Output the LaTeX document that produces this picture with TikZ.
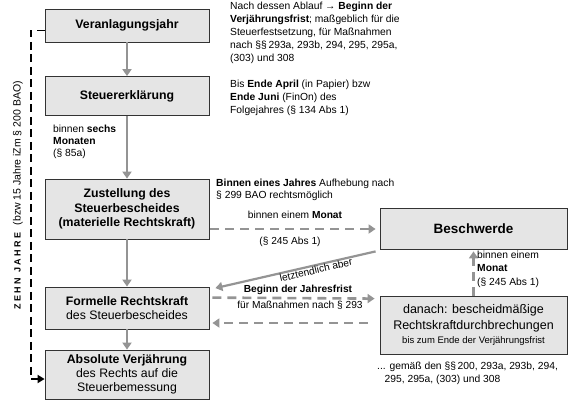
\documentclass[tikz,border=0pt]{standalone}
\usepackage{fontspec}
\setmainfont{Liberation Sans}
\usetikzlibrary{arrows.meta,calc}
\begin{document}
\begin{tikzpicture}[x=1pt,y=-1pt,
  box/.style={draw=black!80, fill=black!10, line width=0.8pt, inner sep=0pt, align=center,
    minimum width=164pt, font=\fontsize{12.3}{14.5}\selectfont},
  rbox/.style={box, minimum width=187pt},
  note/.style={inner sep=0pt, align=left, anchor=north west, font=\fontsize{10.3}{13}\selectfont},
  lbl/.style={inner sep=0pt, font=\fontsize{10.2}{12}\selectfont},
  garrow/.style={draw=black!42, line width=2.6pt, -{Triangle[length=7pt,width=9pt]}},
  gdash/.style={garrow, dash pattern=on 9pt off 6pt},
  kdash/.style={draw=black, line width=1.8pt, dash pattern=on 8pt off 4.5pt, -{Triangle[length=7pt,width=8pt]}}
]
\useasboundingbox (0,0) rectangle (578,410);

% boxes
\node[box, minimum height=33pt] (veran) at (127,25.5) {\bfseries Veranlagungsjahr};
\node[box, minimum height=39pt] (steuer) at (127,96) {\bfseries Steuererklärung};
\node[box, minimum height=60pt] (zust) at (127,209) {\bfseries Zustellung des\\ \bfseries Steuerbescheides\\ \bfseries (materielle Rechtskraft)};
\node[box, minimum height=42pt, font=\fontsize{12.3}{13.8}\selectfont] (form) at (127,308) {\bfseries Formelle Rechtskraft\\ des Steuerbescheides};
\node[box, minimum height=49pt, font=\fontsize{12.3}{13.8}\selectfont] (abs) at (127,374.5) {\bfseries Absolute Verjährung\\ des Rechts auf die\\ Steuerbemessung};
\node[rbox, minimum height=41pt, font=\fontsize{13.5}{15}\selectfont] (besch) at (473.5,228.5) {\bfseries Beschwerde};
\node[rbox, minimum height=58pt, font=\fontsize{12.5}{16}\selectfont] (danach) at (473.5,325) {danach: bescheidmäßige\\ Rechtskraftdurchbrechungen\\[-2pt] {\fontsize{9.5}{11}\selectfont bis zum Ende der Verjährungsfrist}};

% annotations
\node[note] (n1) at (230,1.5) {Nach dessen Ablauf → \textbf{Beginn der}\\ \textbf{Verjährungsfrist}; maßgeblich für die\\ Steuerfestsetzung, für Maßnahmen\\ nach §§\,293a, 293b, 294, 295, 295a,\\ (303) und 308};
\node[note, font=\fontsize{10.3}{12.7}\selectfont] (n2) at (230,80) {Bis \textbf{Ende April} (in Papier) bzw\\ \textbf{Ende Juni} (FinOn) des\\ Folgejahres (§ 134 Abs 1)};
\node[note, font=\fontsize{10.3}{12.3}\selectfont] (n3) at (53,124.5) {binnen \textbf{sechs}\\ \textbf{Monaten}\\ (§ 85a)};
\node[note, font=\fontsize{10.3}{12}\selectfont] (n4) at (216,178.5) {\textbf{Binnen eines Jahres} Aufhebung nach\\ § 299 BAO rechtsmöglich};
\node[note] (n5) at (377,361.5) {... gemäß den §§\,200, 293a, 293b, 294,\\ \phantom{..}\,295, 295a, (303) und 308};

% vertical gray arrows
\draw[garrow] (veran.south) -- (steuer.north);
\draw[garrow] (steuer.south) -- (zust.north);
\draw[garrow] (zust.south) -- (form.north);
\draw[garrow] (form.south) -- (abs.north);

% Zustellung -> Beschwerde
\draw[gdash] ($(zust.east)+(1,20)$) coordinate (z1) -- ($(besch.west)+(-4,0.5)$) coordinate (b1);
\node[lbl] (m1) at (295,214.5) {binnen einem \textbf{Monat}};
\node[lbl] (m2) at (290,242) {(§ 245 Abs 1)};

% Beschwerde -> Formelle
\coordinate (bs) at ($(besch.south west)+(-4,2)$);
\coordinate (fe) at ($(form.north east)+(6,1.5)$);
\draw[garrow, line width=2.2pt] (bs) -- (fe);
\node[lbl, rotate=13] (la) at (316,270) {letztendlich aber};

% Formelle <-> danach
\coordinate (f1) at ($(form.north east)+(3,11)$);
\coordinate (d1) at ($(danach.north west)+(-5,3)$);
\draw[gdash] (f1) -- (d1);
\coordinate (d2) at ($(danach.west)+(-12,-2)$);
\coordinate (f2) at ($(form.east)+(3,15)$);
\draw[gdash] (d2) -- (f2);
\node[lbl] (jf) at (298,290) {\textbf{Beginn der Jahresfrist}};
\node[lbl] (mn) at (300,305.5) {für Maßnahmen nach § 293};

% danach -> Beschwerde
\draw[gdash] (danach.north) -- ($(besch.south)+(0,2)$);
\node[note, font=\fontsize{10.3}{13.8}\selectfont] (m3) at (477,250.5) {binnen einem\\ \textbf{Monat}\\ (§ 245 Abs 1)};

% left dashed bracket
\coordinate (lt) at (31,30.5);
\coordinate (lb) at (31,379);
\draw[kdash] (veran.west |- lt) -- (lt) -- (lb) -- (abs.west |- lb);
\node[inner sep=0pt, rotate=90] (zj) at (18,195.5) {{\fontsize{9}{11}\selectfont\bfseries Z E H N\hspace{5pt}J A H R E}\hspace{7pt}{\fontsize{10.5}{12}\selectfont (bzw 15 Jahre iZm § 200 BAO)}};
\end{tikzpicture}
\end{document}
